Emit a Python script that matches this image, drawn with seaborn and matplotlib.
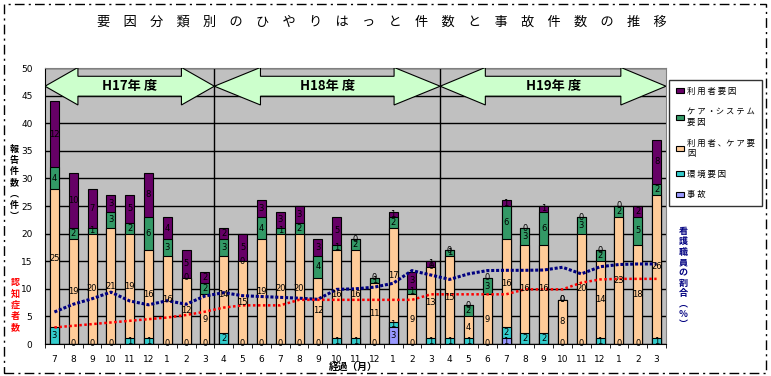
import numpy as np
import pandas as pd
import matplotlib.pyplot as plt
import seaborn as sb
from matplotlib.patches import Polygon, Patch, Rectangle

plt.rcParams['font.family'] = ['Noto Sans CJK JP', 'DejaVu Sans']

# month labels for H17 (Jul-Mar), H18 and H19 (Apr-Mar)
months = [7, 8, 9, 10, 11, 12, 1, 2, 3] + [4, 5, 6, 7, 8, 9, 10, 11, 12, 1, 2, 3] * 2

# stacked series, bottom to top
accident = [0, 0, 0, 0, 0, 0, 0, 0, 0,
            0, 0, 0, 0, 0, 0, 0, 0, 0, 3, 0, 0,
            0, 0, 0, 1, 0, 0, 0, 0, 0, 0, 0, 0]
env = [3, 0, 0, 0, 1, 1, 0, 0, 0,
       2, 0, 0, 0, 0, 0, 1, 1, 0, 1, 0, 1,
       1, 1, 0, 2, 2, 2, 0, 0, 1, 0, 0, 1]
user_care = [25, 19, 20, 21, 19, 16, 16, 12, 9,
             14, 15, 19, 20, 20, 12, 16, 16, 11, 17, 9, 13,
             15, 4, 9, 16, 16, 16, 8, 20, 14, 23, 18, 26]
care_sys = [4, 2, 1, 3, 2, 6, 3, 0, 2,
            3, 0, 4, 1, 2, 4, 1, 2, 1, 2, 1, 0,
            1, 2, 3, 6, 3, 6, 0, 3, 2, 2, 5, 2]
user = [12, 10, 7, 3, 5, 8, 4, 5, 2,
        2, 5, 3, 3, 3, 3, 5, 0, 0, 1, 3, 1,
        0, 0, 0, 1, 0, 1, 0, 0, 0, 0, 2, 8]

# lines
nurse_ratio = [5.8, 7.2, 8.2, 9.4, 7.8, 7.1, 7.85, 7.2, 8.7,
               9.3, 8.75, 8.6, 8.45, 8.3, 8.1, 9.9, 10.0, 10.3, 11.0, 13.3, 12.5,
               11.7, 12.7, 13.3, 13.35, 13.35, 13.4, 13.9, 12.7, 14.0, 14.4, 14.5, 14.5]
dementia = [3.0, 3.3, 3.6, 3.9, 4.2, 4.5, 4.8, 5.25, 5.85,
            6.6, 7.0, 7.0, 7.0, 8.0, 8.0, 8.0, 8.0, 8.0, 8.0, 8.0, 9.0,
            9.0, 9.0, 9.0, 9.0, 9.9, 9.9, 9.9, 11.1, 11.7, 11.8, 11.8, 11.8]

years = ['H17年 度', 'H18年 度', 'H19年 度']

names = ['事 故', '環 境 要 因', '利 用 者 、ケ ア 要\n因', 'ケ ア ・シ ス テ ム\n要 因', '利 用 者 要 因']
colors = ['#9999FF', '#33CCCC', '#FFCC99', '#339966', '#660066']

df = pd.DataFrame({'pos': range(len(months)), 'accident': accident, 'env': env,
                   'user_care': user_care, 'care_sys': care_sys, 'user': user,
                   'nurse': nurse_ratio, 'dementia': dementia})
cols = ['accident', 'env', 'user_care', 'care_sys', 'user']
cum = df[cols].cumsum(axis=1)

fig = plt.figure(figsize=(7.71, 3.76), dpi=100)
ax = fig.add_axes([45 / 771, 32 / 376, 621 / 771, 276 / 376])
ax.set_facecolor('#C0C0C0')

# draw cumulative bars from top layer down so they stack
for c, col in zip(reversed(cols), reversed(colors)):
    sb.barplot(x=df['pos'], y=cum[c], color=col, saturation=1, width=0.48,
               edgecolor='black', linewidth=0.8, ax=ax, zorder=2)

# segment labels
for i in range(len(df)):
    for c in cols:
        v = df.loc[i, c]
        if c == 'accident' and v == 0:
            continue
        mid = cum.loc[i, c] - v / 2
        ax.text(i, mid, str(v), ha='center', va='center', fontsize=6,
                family='DejaVu Sans', zorder=4)

sb.lineplot(x=df['pos'], y=df['nurse'], color='#000080', linestyle=(0, (1, 0.6)),
            linewidth=2.2, ax=ax, zorder=3)
sb.lineplot(x=df['pos'], y=df['dementia'], color='#FF0000', linestyle=(0, (1, 1)),
            linewidth=1.8, ax=ax, zorder=3)

ax.set_xlim(-0.5, len(months) - 0.5)
ax.set_ylim(0, 50)
ax.set_yticks(np.arange(0, 51, 5))
ax.yaxis.grid(True, color='black', linewidth=1)
ax.set_axisbelow(True)
ax.set_xticks(range(len(months)))
ax.set_xticklabels(months, family='DejaVu Sans', fontsize=6.5)
ax.set_xticks(np.arange(-0.5, len(months), 1), minor=True)
ax.tick_params(axis='x', which='major', length=0, pad=8)
ax.tick_params(axis='x', which='minor', length=3)
ax.tick_params(axis='y', length=0, pad=9, labelsize=6.5)
for t in ax.get_yticklabels():
    t.set_family('DejaVu Sans')
ax.set_xlabel('')
ax.set_ylabel('')
for s in ['top', 'right']:
    ax.spines[s].set_color('#808080')
for s in ['left', 'bottom']:
    ax.spines[s].set_color('black')

# fiscal year dividers and arrows
bounds = [(-0.5, 8.5, 1.75), (8.5, 20.5, 2.45), (20.5, 32.5, 2.4)]
for x in [8.5, 20.5]:
    ax.axvline(x, color='black', linewidth=1, zorder=1)
yc = 46.7
for (x0, x1, h), lab in zip(bounds, years):
    pts = [(x0, yc), (x0 + h, yc + 3.4), (x0 + h, yc + 1.8), (x1 - h, yc + 1.8),
           (x1 - h, yc + 3.4), (x1, yc), (x1 - h, yc - 3.4), (x1 - h, yc - 1.8),
           (x0 + h, yc - 1.8), (x0 + h, yc - 3.4)]
    ax.add_patch(Polygon(pts, closed=True, facecolor='#CCFFCC', edgecolor='black',
                         linewidth=0.8, zorder=5))
    ax.text((x0 + x1) / 2, yc, lab, ha='center', va='center', fontsize=9.5,
            fontweight='bold', zorder=6)

# title and axis texts
fig.text(381.5 / 771, 1 - 22 / 376, '\u3000'.join('要因分類別のひやりはっと件数と事故件数の推移'),
         ha='center', va='center', fontsize=9.5)
fig.text(353 / 771, 1 - 367 / 376, '経過（月）', ha='center', va='center',
         fontsize=7, fontweight='bold')
fig.text(14 / 771, 1 - 183 / 376, '\n'.join('報告件数︵件︶'), ha='center', va='center',
         fontsize=6.5, fontweight='bold', linespacing=1.3)
fig.text(15 / 771, 1 - 305 / 376, '\n'.join('認知症者数'), ha='center', va='center',
         fontsize=6.5, fontweight='bold', color='#FF0000', linespacing=1.3)
fig.text(683 / 771, 1 - 278 / 376, '\n'.join('看護職員の割合︵％︶'), ha='center', va='center',
         fontsize=6.5, fontweight='bold', color='#000080', linespacing=1.2)

# legend
handles = [Patch(facecolor=c, edgecolor='black', linewidth=0.8) for c in reversed(colors)]
leg = fig.legend(handles, list(reversed(names)), loc='upper left',
                 bbox_to_anchor=(669 / 771, 1 - 80 / 376), frameon=True, fancybox=False,
                 edgecolor='black', fontsize=6, handlelength=1.0, handleheight=0.6,
                 labelspacing=1.4, borderpad=0.8, handletextpad=0.4, borderaxespad=0)
leg.get_frame().set_linewidth(1)

# dashed outer border
fig.add_artist(Rectangle((4 / 771, 3 / 376), 762 / 771, 369 / 376, transform=fig.transFigure,
                         fill=False, edgecolor='black', linewidth=1,
                         linestyle=(0, (7, 3, 1.5, 3))))

plt.savefig('out.png', dpi=100)
